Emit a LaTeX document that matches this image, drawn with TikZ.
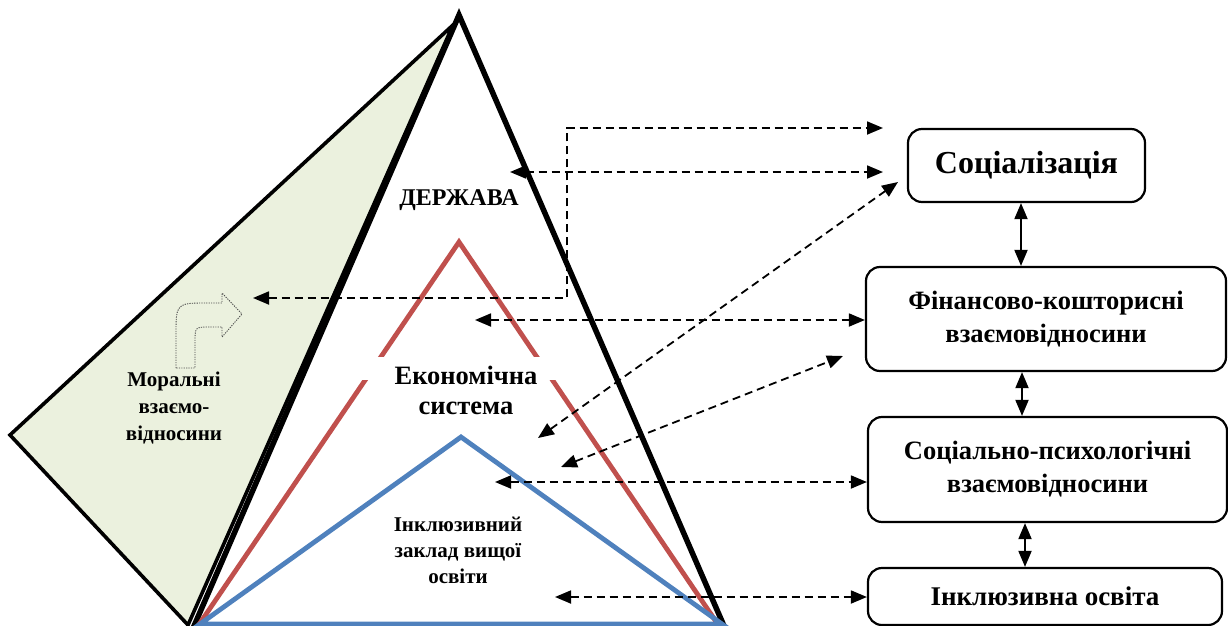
\documentclass[tikz,border=0pt]{standalone}
\usepackage{fontspec}
\setmainfont{Liberation Serif}
\usetikzlibrary{arrows.meta}
\definecolor{greenfill}{RGB}{235,241,222}
\definecolor{redtri}{RGB}{192,80,77}
\definecolor{bluetri}{RGB}{79,129,189}
\begin{document}
\begin{tikzpicture}[x=1pt,y=-1pt,
  dasharr/.style={line width=1.8pt, dash pattern=on 8pt off 5pt,
    {Triangle[length=16pt,width=13pt]}-{Triangle[length=16pt,width=13pt]}},
  solidarr/.style={line width=1.9pt,
    {Triangle[length=16pt,width=13pt]}-{Triangle[length=16pt,width=13pt]}},
  box/.style={draw, line width=2.2pt, rounded corners=14pt, align=center,
    font=\bfseries\fontsize{26.5}{33}\selectfont, inner sep=0pt},
  lbl/.style={align=center, inner sep=0pt}
]
\useasboundingbox (0,0) rectangle (1228,626);

% green side face
\fill[greenfill] (453,25) -- (10,435) -- (188,625) -- cycle;
\draw[line width=3.6pt, line join=miter] (453,25) -- (10,435) -- (188,625) -- cycle;

% curved arrow icon
\draw[black!70, line width=0.9pt, dash pattern=on 1.2pt off 1.2pt]
  (176,368) -- (176,335) .. controls (176,303) .. (208,303) -- (222,303)
  -- (222,293) -- (242,314) -- (222,337) -- (222,327) -- (210,327)
  .. controls (195,327) .. (195,342) -- (195,368) -- cycle;

% pyramid triangles
\draw[line width=5.5pt, line join=miter] (459,15) -- (194,626) -- (724,626) -- cycle;
\draw[redtri, line width=4.8pt] (198,626) -- (459,242) -- (719,626);
\draw[bluetri, line width=4.8pt, line join=miter] (200,624) -- (461,437) -- (722,624) -- cycle;

% white background behind first line
\fill[white] (362,357) rectangle (556,380);

% labels
\node[lbl, font=\bfseries\fontsize{24}{28}\selectfont] (state) at (459,200) {ДЕРЖАВА};
\node[lbl, font=\bfseries\fontsize{26.5}{30}\selectfont] (econ) at (466,390) {Економічна\\система};
\node[lbl, font=\bfseries\fontsize{21}{26}\selectfont] (ivo) at (458,550) {Інклюзивний\\заклад вищої\\освіти};
\node[lbl, font=\bfseries\fontsize{21}{27}\selectfont] (moral) at (174,408) {Моральні\\взаємо-\\відносини};

% right boxes
\node[box, minimum width=237pt, minimum height=73pt, font=\bfseries\fontsize{32}{38}\selectfont] (soc) at (1026.5,165.5) {Соціалізація};
\node[box, minimum width=360pt, minimum height=104pt] (fin) at (1046,319) {Фінансово-кошторисні\\взаємовідносини};
\node[box, minimum width=359pt, minimum height=105pt] (sp) at (1047.5,469.5) {Соціально-психологічні\\взаємовідносини};
\node[box, minimum width=354pt, minimum height=57pt, font=\bfseries\fontsize{27}{33}\selectfont] (inc) at (1045,596.5) {Інклюзивна освіта};

% vertical connectors between boxes
\coordinate (v1) at (1021,0);
\coordinate (v2) at (1022,0);
\coordinate (v3) at (1025,0);
\draw[solidarr] (soc.south -| v1) -- (fin.north -| v1);
\draw[solidarr] (fin.south -| v2) -- (sp.north -| v2);
\draw[solidarr] (sp.south -| v3) -- (inc.north -| v3);

% dashed connector ends
\coordinate (m1) at (253,298);
\coordinate (e1) at (883,128);
\coordinate (s2) at (510,172);
\coordinate (e2) at (883,172);
\coordinate (s3) at (538,438);
\coordinate (e3) at (898,182);
\coordinate (s4) at (475,320);
\coordinate (s5) at (561,467);
\coordinate (e5) at (843,356);
\coordinate (s6) at (495,482);
\coordinate (s7) at (555,597);

\draw[dasharr] (m1) -- (567,298) -- (567,128) -- (e1);
\draw[dasharr] (s2) -- (e2);
\draw[dasharr] (s3) -- (e3);
\draw[dasharr] (s4) -- (s4 -| fin.west);
\draw[dasharr] (s5) -- (e5);
\draw[dasharr] (s6) -- (s6 -| sp.west);
\draw[dasharr] (s7) -- (s7 -| inc.west);
\end{tikzpicture}
\end{document}
